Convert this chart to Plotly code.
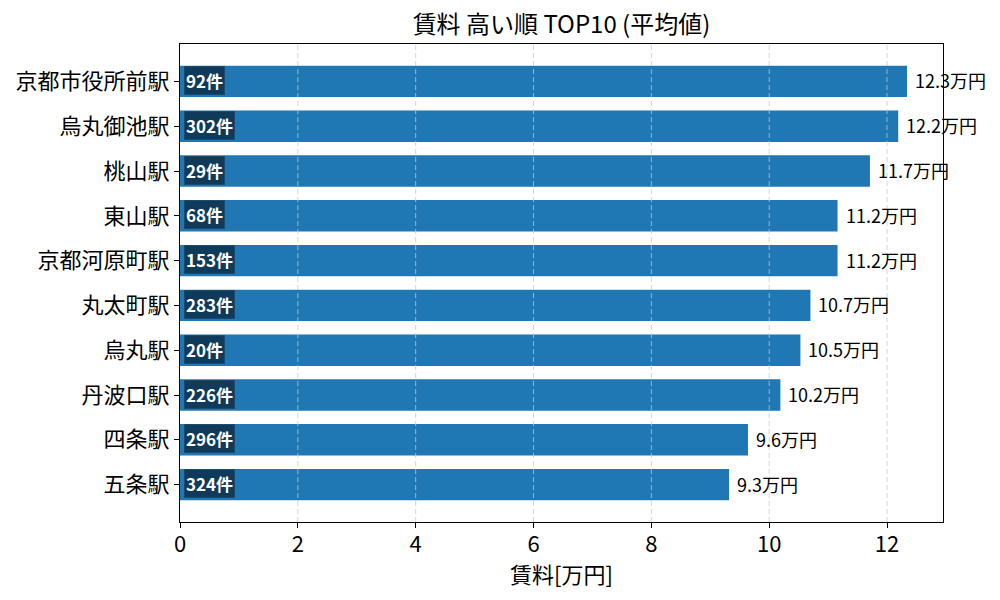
import plotly.graph_objects as go

FONT = 'Noto Sans CJK JP'

stations = ['京都市役所前駅', '烏丸御池駅', '桃山駅', '東山駅', '京都河原町駅',
            '丸太町駅', '烏丸駅', '丹波口駅', '四条駅', '五条駅']
rent_man = [12.34, 12.19, 11.71, 11.16, 11.16, 10.70, 10.53, 10.19, 9.64, 9.32]
counts = [92, 302, 29, 68, 153, 283, 20, 226, 296, 324]
x_ticks = [0, 2, 4, 6, 8, 10, 12]

pos = list(range(len(stations)))

fig = go.Figure()
fig.add_trace(go.Bar(
    x=rent_man, y=pos, orientation='h', width=0.7,
    marker=dict(color='#1f77b4', line=dict(width=0)),
    hoverinfo='skip',
))

annotations = []
for p, v, c in zip(pos, rent_man, counts):
    # value label to the right of each bar
    annotations.append(dict(
        x=v, y=p, xref='x', yref='y', text=f'{v:.1f}万円', showarrow=False,
        xanchor='left', yanchor='middle', xshift=6, yshift=1,
        font=dict(family=FONT, size=18, color='#000000'),
    ))
    # count badge at the start of each bar
    annotations.append(dict(
        x=0, y=p, xref='x', yref='y', text=f'<b>{c}件</b>', showarrow=False,
        xanchor='left', yanchor='middle', xshift=4, yshift=1,
        font=dict(family=FONT, size=17, color='#ffffff'),
        bgcolor='#0f3a5a', bordercolor='#1a4a6e', borderwidth=1, borderpad=1,
    ))

# grid drawn on top of the bars, like the original
grid = []
for t in x_ticks[1:]:
    grid.append(dict(
        type='line', xref='x', yref='paper', x0=t, x1=t, y0=0, y1=1,
        line=dict(color='rgba(200,200,200,0.75)', width=1, dash='5px,3px'),
        layer='above',
    ))

# page body adds an 8px offset, so the figure is a bit smaller than the window
fig.update_layout(
    width=992, height=592,
    paper_bgcolor='white', plot_bgcolor='white',
    margin=dict(l=172, r=57, t=36, b=78, autoexpand=False),
    showlegend=False,
    font=dict(family=FONT, color='#000000'),
    title=dict(text='賃料 高い順 TOP10 (平均値)', x=0.5, xref='paper', xanchor='center',
               y=1 - 17 / 592, yanchor='middle', font=dict(family=FONT, size=24)),
    annotations=annotations,
    shapes=grid,
)
fig.update_xaxes(
    range=[0, 12.95], tickvals=x_ticks, ticktext=[str(t) for t in x_ticks],
    ticks='outside', ticklen=5, tickcolor='black',
    showline=True, linecolor='black', linewidth=1.2, mirror=True,
    showgrid=False, zeroline=False,
    tickfont=dict(family=FONT, size=22), ticklabelstandoff=-3,
    title=dict(text='賃料[万円]', font=dict(family=FONT, size=22), standoff=0),
)
fig.update_yaxes(
    range=[9.835, -0.835], tickvals=pos, ticktext=stations,
    ticks='outside', ticklen=5, tickcolor='black',
    showline=True, linecolor='black', linewidth=1.2, mirror=True,
    showgrid=False, zeroline=False,
    tickfont=dict(family=FONT, size=22),
)

fig.write_html('out.html')
